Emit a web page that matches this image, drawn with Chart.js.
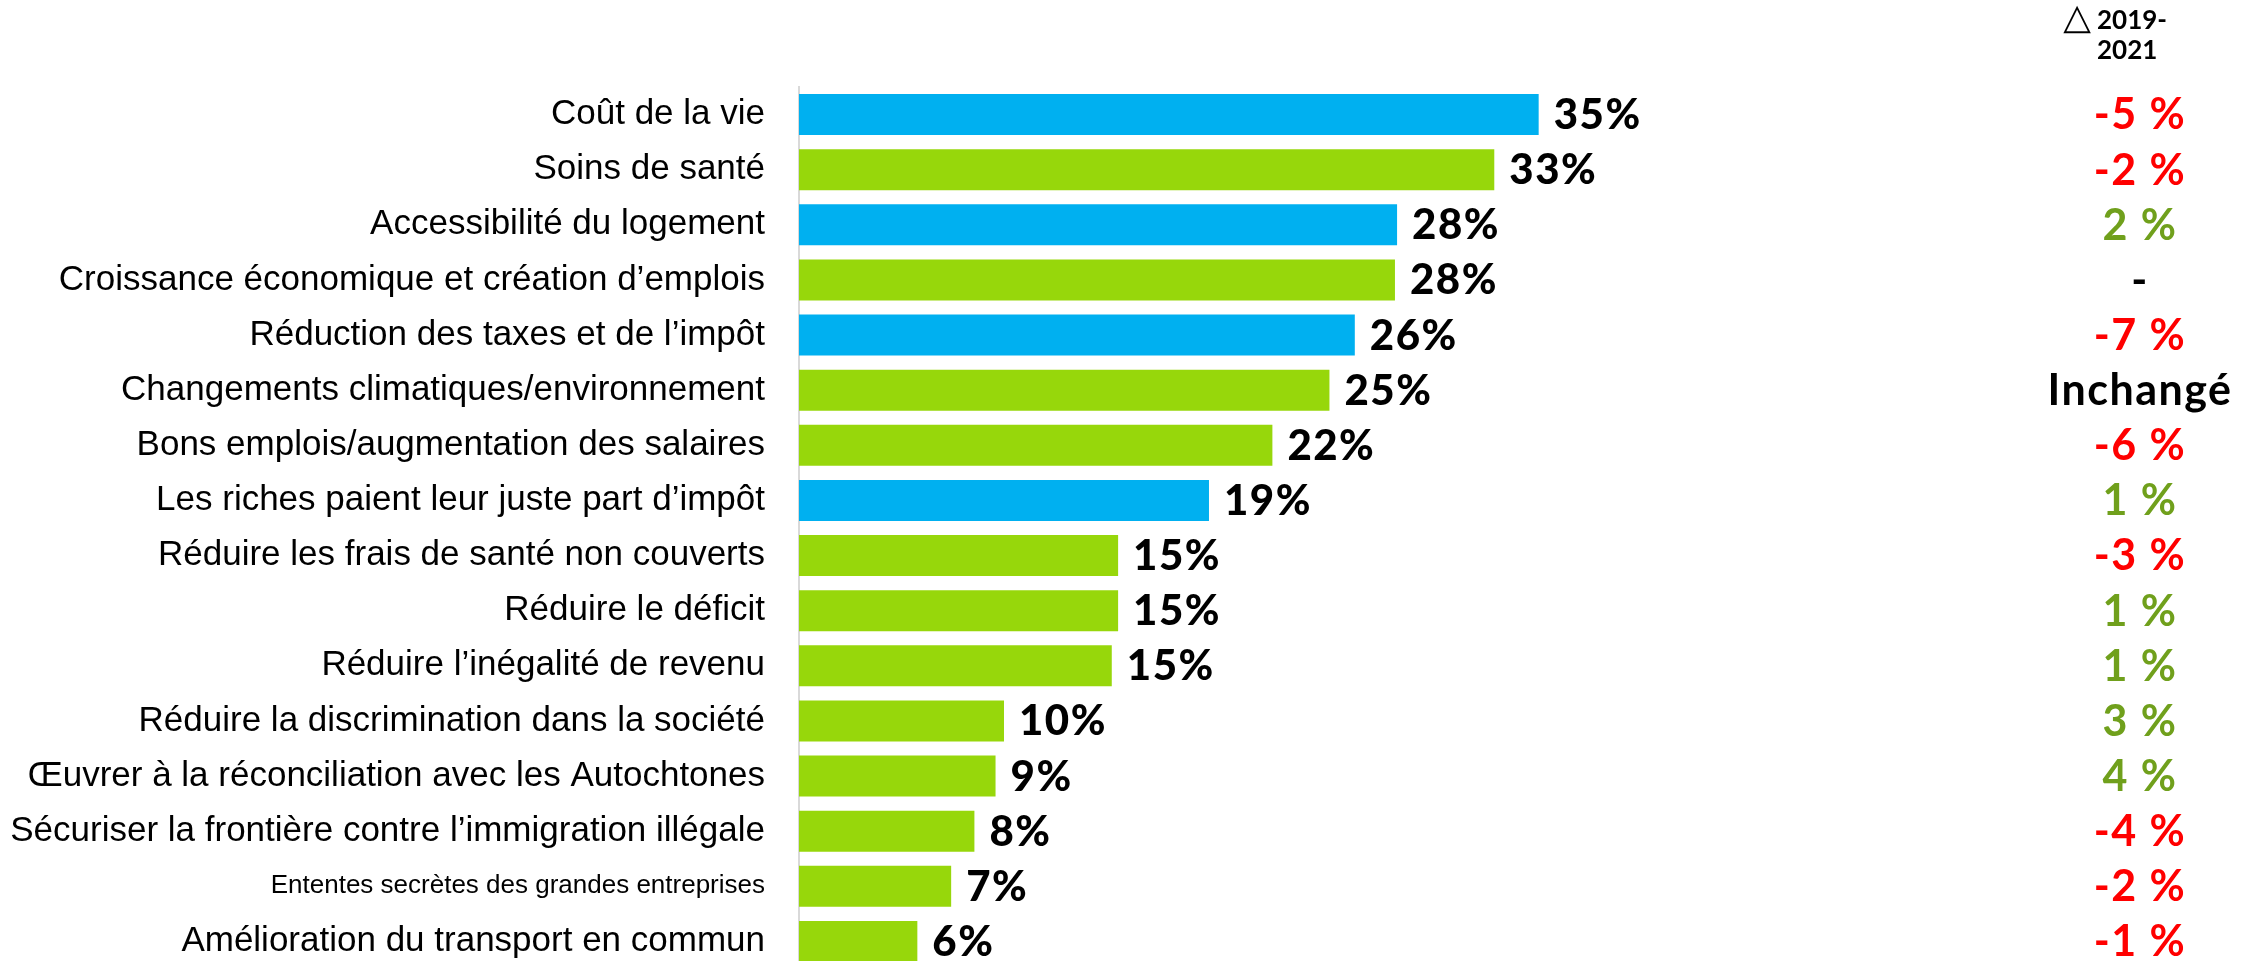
<!DOCTYPE html>
<html>
<head>
<meta charset="utf-8">
<script src="https://cdn.jsdelivr.net/npm/chart.js@4/dist/chart.umd.min.js"></script>
<style>
  html, body { margin: 0; padding: 0; background: #fff; overflow: hidden; }
  #wrap { width: 2257px; height: 969px; }
</style>
</head>
<body>
<div id="wrap"><canvas id="myChart" width="2257" height="969"></canvas></div>
<script>
// categories (top to bottom)
const categories = [
  'Coût de la vie',
  'Soins de santé',
  'Accessibilité du logement',
  'Croissance économique et création d’emplois',
  'Réduction des taxes et de l’impôt',
  'Changements climatiques/environnement',
  'Bons emplois/augmentation des salaires',
  'Les riches paient leur juste part d’impôt',
  'Réduire les frais de santé non couverts',
  'Réduire le déficit',
  'Réduire l’inégalité de revenu',
  'Réduire la discrimination dans la société',
  'Œuvrer à la réconciliation avec les Autochtones',
  'Sécuriser la frontière contre l’immigration illégale',
  'Ententes secrètes des grandes entreprises',
  'Amélioration du transport en commun',
];

// share of respondents, %
const values = [35, 32.9, 28.3, 28.2, 26.3, 25.1, 22.4, 19.4, 15.1, 15.1, 14.8, 9.7, 9.3, 8.3, 7.2, 5.6];

// bar group: 'A' = blue, 'B' = green
const groups = ['A', 'B', 'A', 'B', 'A', 'B', 'B', 'A', 'B', 'B', 'B', 'B', 'B', 'B', 'B', 'B'];

// change 2019-2021 in points (null = no comparison, 0 = unchanged)
const deltas = [-5, -2, 2, null, -7, 0, -6, 1, -3, 1, 1, 3, 4, -4, -2, -1];

const BLUE = '#00B0F0';
const GREEN = '#97D70B';
const DELTA_GREEN = '#70A01C';
const DELTA_RED = '#FF0000';

const labelPlugin = {
    id: 'barLabels',
    afterDatasetsDraw(chart) {
        const ctx = chart.ctx;
        const meta = chart.getDatasetMeta(0);
        const deltaX = chart.width - 117;
        ctx.save();
        ctx.textBaseline = 'middle';
        meta.data.forEach((bar, i) => {
            ctx.font = '900 42px Lato';
            ctx.letterSpacing = '1.5px';
            ctx.fillStyle = '#000';
            ctx.textAlign = 'left';
            ctx.fillText(Math.round(values[i]) + '%', bar.x + 15, bar.y + 1);

            const d = deltas[i];
            let txt, col;
            if (d === null) { txt = '-'; col = '#000'; }
            else if (d === 0) { txt = 'Inchangé'; col = '#000'; }
            else { txt = d + ' %'; col = d < 0 ? DELTA_RED : DELTA_GREEN; }
            ctx.font = 'bold 43px Lato';
            ctx.letterSpacing = '1.5px';
            ctx.fillStyle = col;
            ctx.textAlign = 'center';
            ctx.fillText(txt, deltaX, bar.y + 1);
        });

        // column header
        const hx = deltaX - 43;
        ctx.letterSpacing = '0px';
        ctx.fillStyle = '#000';
        ctx.textAlign = 'left';
        ctx.font = 'bold 26px Lato';
        ctx.fillText('2019-', hx, 21);
        ctx.fillText('2021', hx, 51);
        ctx.textAlign = 'right';
        ctx.font = 'bold 36px "DejaVu Sans"';
        ctx.fillText('△', hx - 6, 20);
        ctx.restore();
    }
};

const ctx = document.getElementById('myChart').getContext('2d');

new Chart(ctx, {
    type: 'bar',
    data: {
        labels: categories,
        datasets: [
            {
                data: values,
                backgroundColor: groups.map(g => (g === 'A' ? BLUE : GREEN)),
                borderWidth: 0,
                barPercentage: 0.745,
                categoryPercentage: 1,
            },
        ],
    },
    options: {
        indexAxis: 'y',
        responsive: false,
        animation: false,
        layout: { padding: { top: 87, right: 507, bottom: 0, left: 0 } },
        plugins: {
            legend: { display: false },
            tooltip: { enabled: false },
        },
        scales: {
            x: { display: false, min: 0, max: 45 },
            y: {
                afterFit(scale) {
                    scale.width = 799;
                    scale.paddingTop = 0;
                    scale.paddingBottom = 0;
                },
                grid: { display: false, drawTicks: false },
                border: { display: true, color: '#D9D9D9', width: 2 },
                ticks: {
                    autoSkip: false,
                    padding: 34,
                    color: '#000',
                    font: c => ({
                        family: '"Liberation Sans", Arial, sans-serif',
                        size: c.index === 14 ? 26 : 35,
                    }),
                },
            },
        },
    },
    plugins: [labelPlugin],
});
</script>
</body>
</html>
